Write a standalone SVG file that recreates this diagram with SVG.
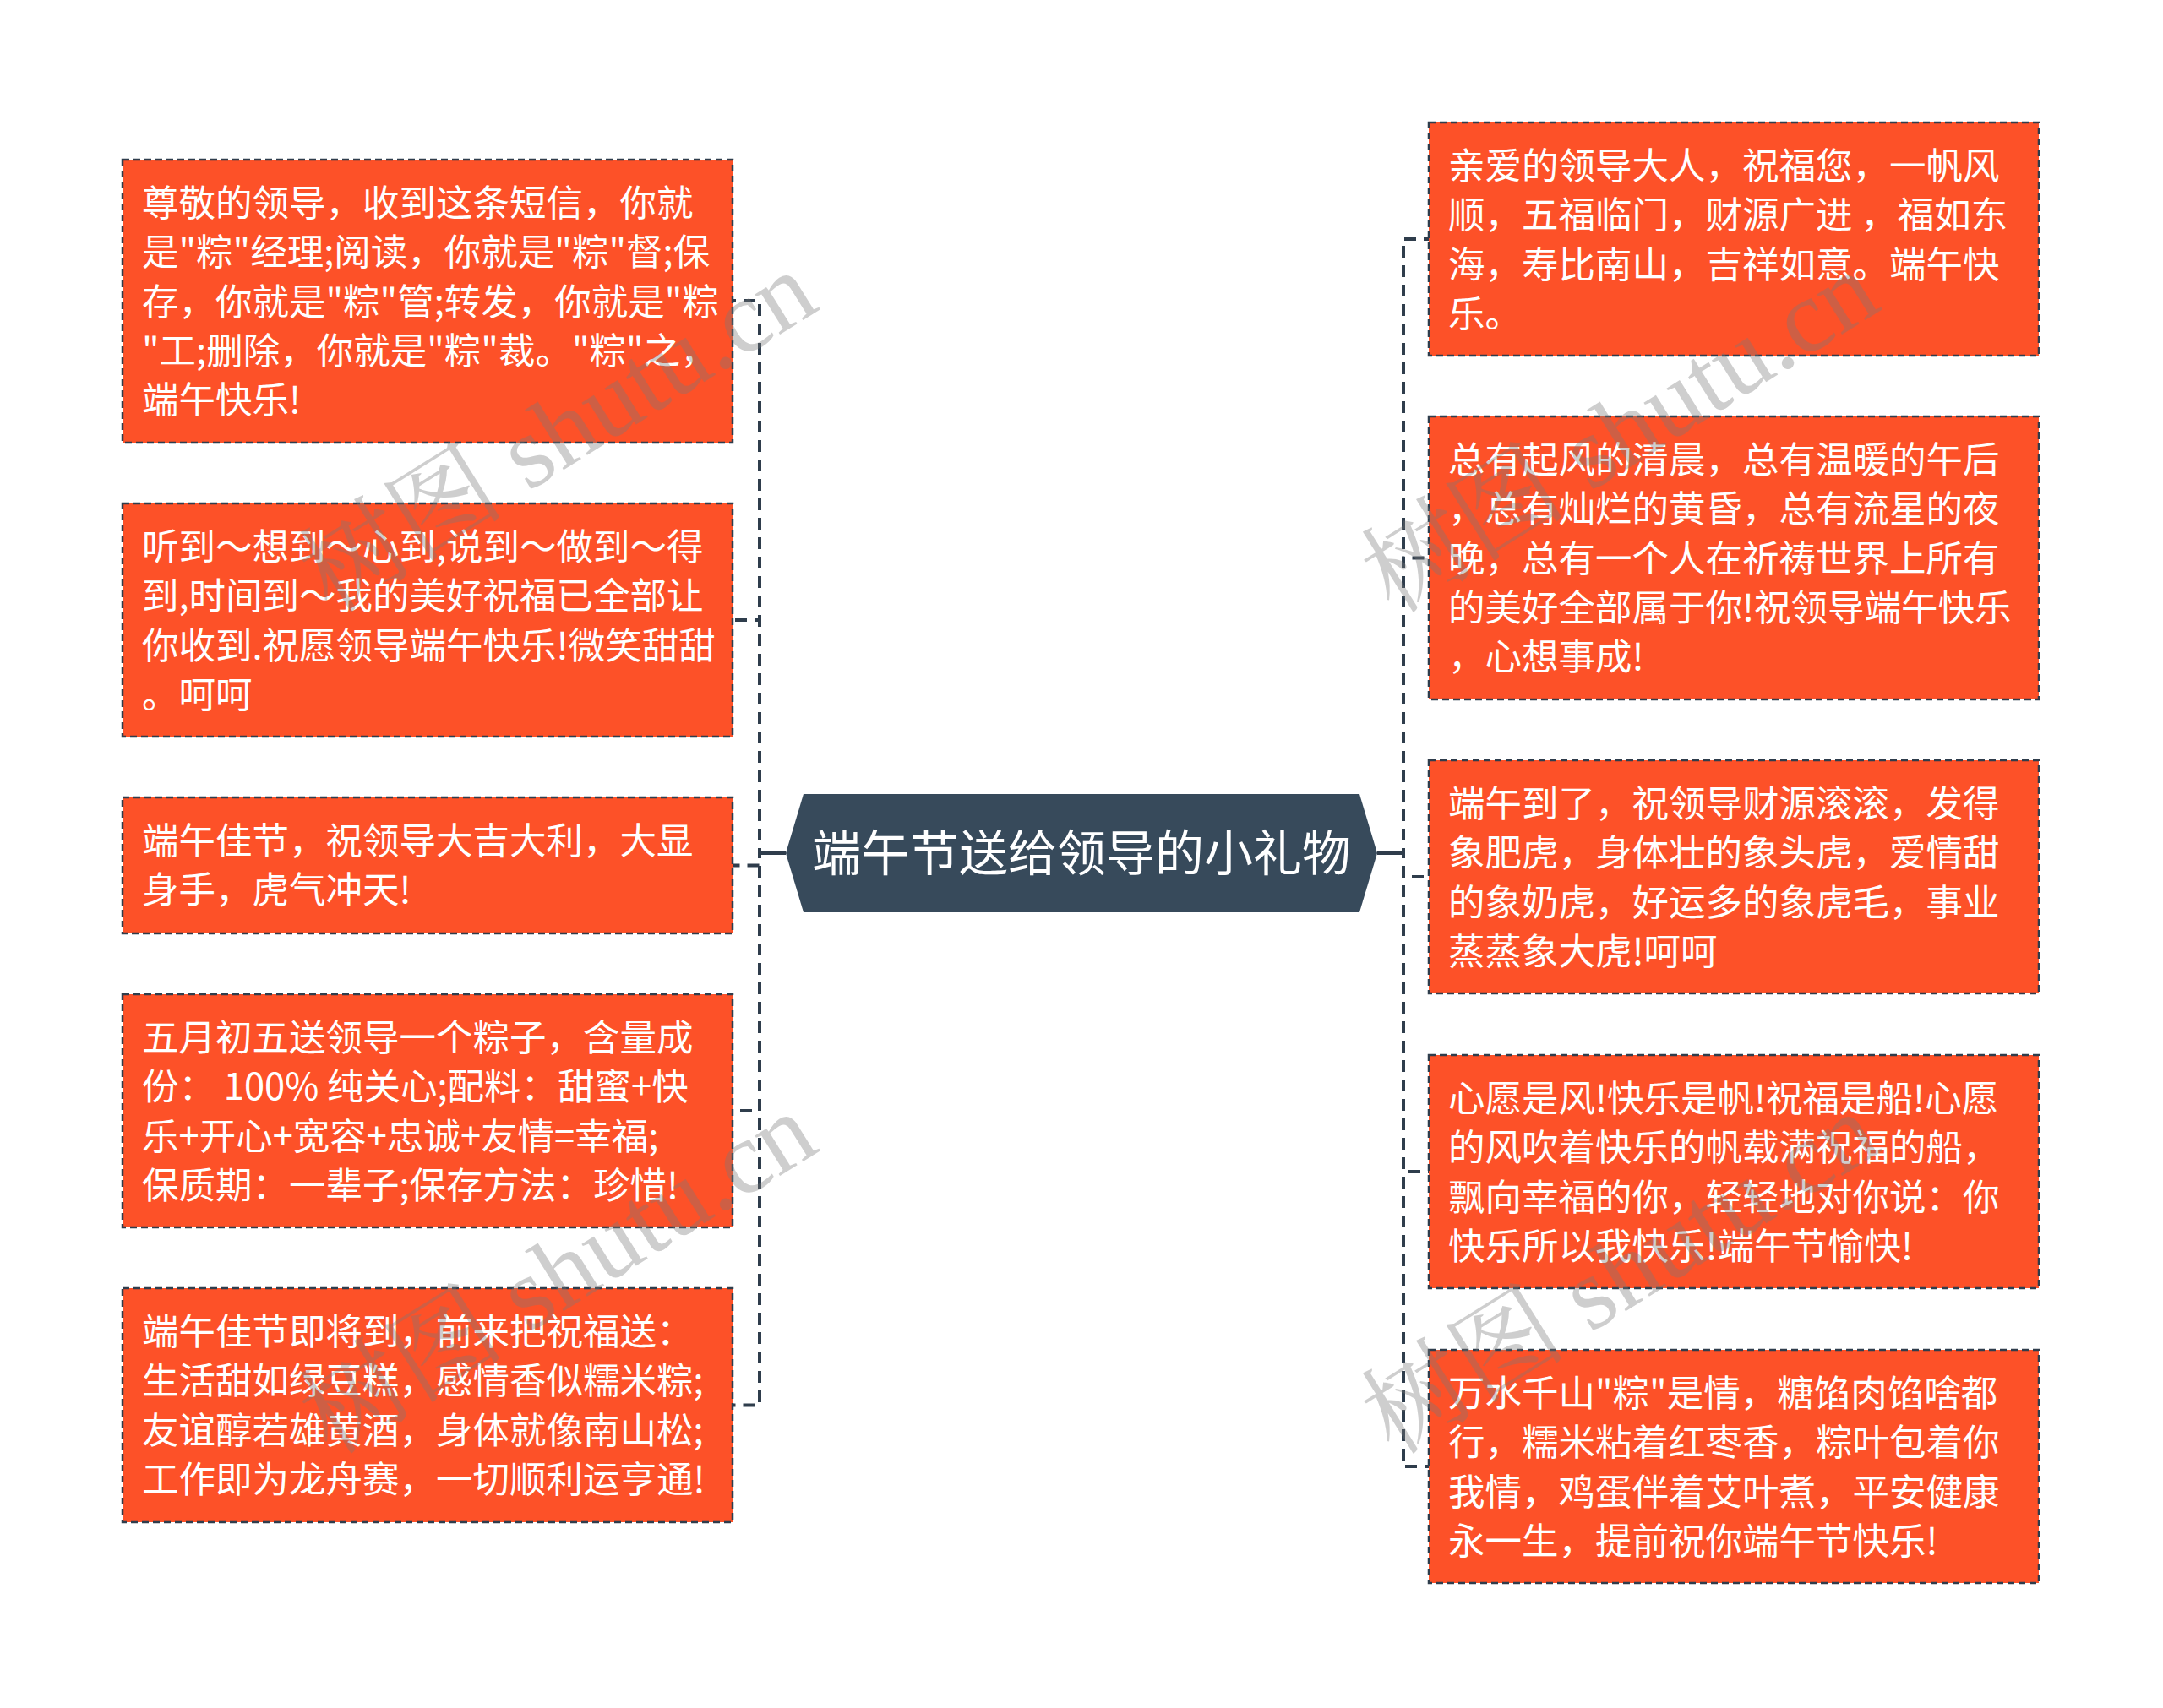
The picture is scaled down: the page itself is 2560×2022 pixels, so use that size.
<svg xmlns="http://www.w3.org/2000/svg" width="2560" height="2022" viewBox="0 0 2560 2022">
<style>
.box{fill:#FD5128;stroke:#2F3D4C;stroke-width:2.5;stroke-dasharray:8 5}
.t{font-family:"Noto Sans CJK SC","Noto Sans",sans-serif;font-size:43.5px;fill:#FFFFFF}
.root{fill:#374A5B}
.rt{font-family:"Noto Sans CJK SC","Noto Sans",sans-serif;font-size:58px;fill:#FFFFFF;text-anchor:middle}
.edge{fill:none;stroke:#2F3D4C;stroke-width:4;stroke-dasharray:14 9}
.solid{fill:none;stroke:#2F3D4C;stroke-width:4}
.wm{font-family:"Liberation Serif","Noto Serif CJK SC","Noto Sans CJK SC",serif;font-size:122px;fill:#7A7A7A;opacity:0.36}
</style>
<rect width="2560" height="2022" fill="#FFFFFF"/>
<g id="connectors">
<path class="edge" d="M930 1010H899V356H867"/>
<path class="edge" d="M930 1010H899V734H867"/>
<path class="edge" d="M930 1010H899V1024.5H867"/>
<path class="edge" d="M930 1010H899V1315H867"/>
<path class="edge" d="M930 1010H899V1663.5H867"/>
<path class="edge" d="M1630 1010H1661V283H1691"/>
<path class="edge" d="M1630 1010H1661V660.5H1691"/>
<path class="edge" d="M1630 1010H1661V1038H1691"/>
<path class="edge" d="M1630 1010H1661V1387H1691"/>
<path class="edge" d="M1630 1010H1661V1736H1691"/>
<path class="solid" d="M930 1010H899M1630 1010H1661"/>
</g>
<g id="root">
<polygon class="root" points="930,1010 951,940 1609,940 1630,1010 1609,1080 951,1080"/>
<text class="rt" x="1280" y="1031">端午节送给领导的小礼物</text>
</g>
<g id="left1">
<rect class="box" x="145" y="189" width="722" height="335"/>
<text class="t"><tspan x="168" y="256">尊敬的领导，收到这条短信，你就</tspan><tspan x="168" y="314.3">是"粽"经理;阅读，你就是"粽"督;保</tspan><tspan x="168" y="372.6">存，你就是"粽"管;转发，你就是"粽</tspan><tspan x="168" y="430.9">"工;删除，你就是"粽"裁。"粽"之，</tspan><tspan x="168" y="489.2">端午快乐!</tspan></text>
</g>
<g id="left2">
<rect class="box" x="145" y="596" width="722" height="276"/>
<text class="t"><tspan x="168" y="663">听到～想到～心到,说到～做到～得</tspan><tspan x="168" y="721.3">到,时间到～我的美好祝福已全部让</tspan><tspan x="168" y="779.6">你收到.祝愿领导端午快乐!微笑甜甜</tspan><tspan x="168" y="837.9">。呵呵</tspan></text>
</g>
<g id="left3">
<rect class="box" x="145" y="944" width="722" height="161"/>
<text class="t"><tspan x="168" y="1011">端午佳节，祝领导大吉大利，大显</tspan><tspan x="168" y="1069.3">身手，虎气冲天!</tspan></text>
</g>
<g id="left4">
<rect class="box" x="145" y="1177" width="722" height="276"/>
<text class="t"><tspan x="168" y="1244">五月初五送领导一个粽子，含量成</tspan><tspan x="168" y="1302.3">份： 100% 纯关心;配料：甜蜜+快</tspan><tspan x="168" y="1360.6">乐+开心+宽容+忠诚+友情=幸福;</tspan><tspan x="168" y="1418.9">保质期：一辈子;保存方法：珍惜!</tspan></text>
</g>
<g id="left5">
<rect class="box" x="145" y="1525" width="722" height="277"/>
<text class="t"><tspan x="168" y="1592">端午佳节即将到，前来把祝福送：</tspan><tspan x="168" y="1650.3">生活甜如绿豆糕，感情香似糯米粽;</tspan><tspan x="168" y="1708.6">友谊醇若雄黄酒，身体就像南山松;</tspan><tspan x="168" y="1766.9">工作即为龙舟赛，一切顺利运亨通!</tspan></text>
</g>
<g id="right1">
<rect class="box" x="1691" y="145" width="722" height="276"/>
<text class="t"><tspan x="1714" y="212">亲爱的领导大人，祝福您，一帆风</tspan><tspan x="1714" y="270.3">顺，五福临门，财源广进 ，福如东</tspan><tspan x="1714" y="328.6">海，寿比南山，吉祥如意。端午快</tspan><tspan x="1714" y="386.9">乐。</tspan></text>
</g>
<g id="right2">
<rect class="box" x="1691" y="493" width="722" height="335"/>
<text class="t"><tspan x="1714" y="560">总有起风的清晨，总有温暖的午后</tspan><tspan x="1714" y="618.3">，总有灿烂的黄昏，总有流星的夜</tspan><tspan x="1714" y="676.6">晚，总有一个人在祈祷世界上所有</tspan><tspan x="1714" y="734.9">的美好全部属于你!祝领导端午快乐</tspan><tspan x="1714" y="793.2">，心想事成!</tspan></text>
</g>
<g id="right3">
<rect class="box" x="1691" y="900" width="722" height="276"/>
<text class="t"><tspan x="1714" y="967">端午到了，祝领导财源滚滚，发得</tspan><tspan x="1714" y="1025.3">象肥虎，身体壮的象头虎，爱情甜</tspan><tspan x="1714" y="1083.6">的象奶虎，好运多的象虎毛，事业</tspan><tspan x="1714" y="1141.9">蒸蒸象大虎!呵呵</tspan></text>
</g>
<g id="right4">
<rect class="box" x="1691" y="1249" width="722" height="276"/>
<text class="t"><tspan x="1714" y="1316">心愿是风!快乐是帆!祝福是船!心愿</tspan><tspan x="1714" y="1374.3">的风吹着快乐的帆载满祝福的船，</tspan><tspan x="1714" y="1432.6">飘向幸福的你，轻轻地对你说：你</tspan><tspan x="1714" y="1490.9">快乐所以我快乐!端午节愉快!</tspan></text>
</g>
<g id="right5">
<rect class="box" x="1691" y="1598" width="722" height="276"/>
<text class="t"><tspan x="1714" y="1665">万水千山"粽"是情，糖馅肉馅啥都</tspan><tspan x="1714" y="1723.3">行，糯米粘着红枣香，粽叶包着你</tspan><tspan x="1714" y="1781.6">我情，鸡蛋伴着艾叶煮，平安健康</tspan><tspan x="1714" y="1839.9">永一生，提前祝你端午节快乐!</tspan></text>
</g>
<g id="watermarks">
<text class="wm" transform="translate(392 728) rotate(-32)">树图 shutu.cn</text>
<text class="wm" transform="translate(392 1724) rotate(-32)">树图 shutu.cn</text>
<text class="wm" transform="translate(1649 728) rotate(-32)">树图 shutu.cn</text>
<text class="wm" transform="translate(1649 1724) rotate(-32)">树图 shutu.cn</text>
</g>
</svg>
